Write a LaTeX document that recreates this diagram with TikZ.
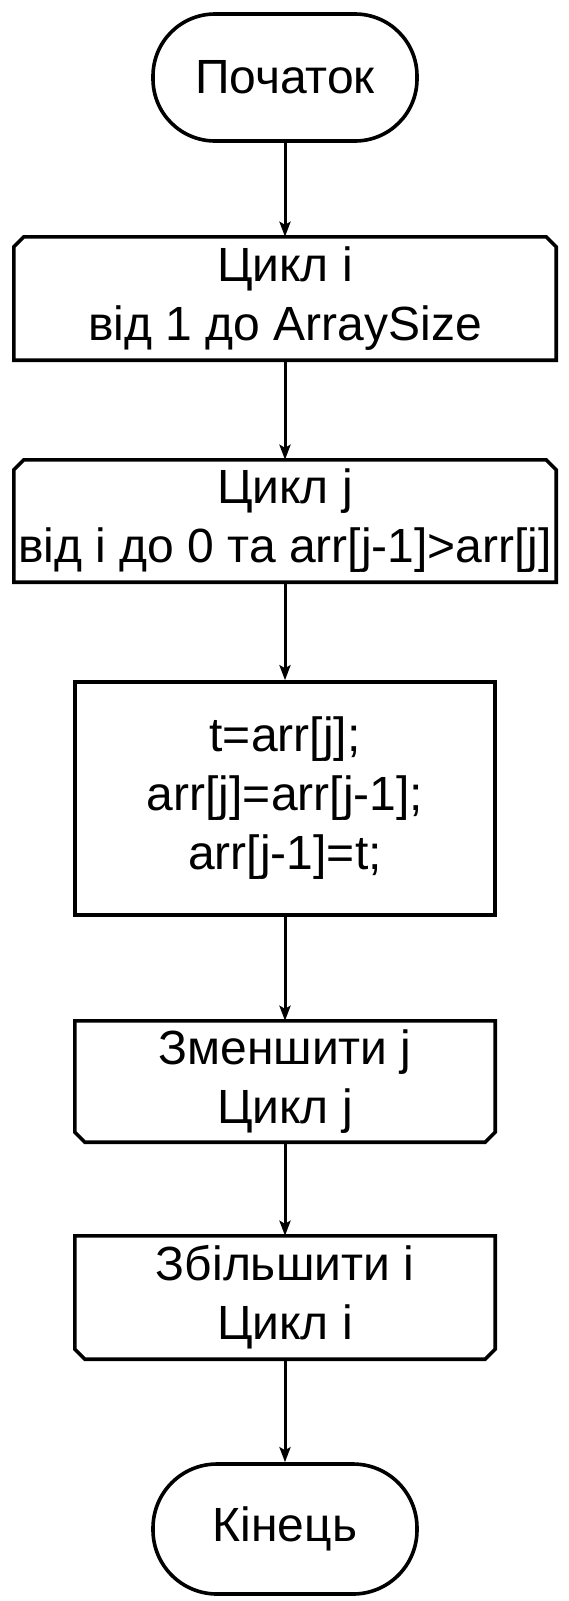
\documentclass[tikz,border=0pt]{standalone}
\usepackage{fontspec}
\setmainfont{Liberation Sans}
\usetikzlibrary{arrows.meta}
\tikzset{
  x=1pt, y=-1pt,
  base/.style={inner sep=0pt, align=center, font=\fontsize{48}{59}\selectfont},
  term/.style={base, draw, line width=3.6pt, rounded corners=62pt},
  proc/.style={base, draw, line width=3.6pt},
  loopbox/.style={base},
  outline/.style={line width=3.6pt, line join=miter},
  arr/.style={line width=3pt, -{Stealth[length=15pt,width=11pt,inset=3pt]}}
}
\newcommand{\loopstart}[1]{%
  \draw[outline] (#1.south west) -- ([yshift=-10pt]#1.north west) -- ([xshift=10pt]#1.north west)
    -- ([xshift=-10pt]#1.north east) -- ([yshift=-10pt]#1.north east) -- (#1.south east) -- cycle;}
\newcommand{\loopfinish}[1]{%
  \draw[outline] (#1.north west) -- ([yshift=10pt]#1.south west) -- ([xshift=10pt]#1.south west)
    -- ([xshift=-10pt]#1.south east) -- ([yshift=10pt]#1.south east) -- (#1.north east) -- cycle;}
\begin{document}
\begin{tikzpicture}
\useasboundingbox[fill=white] (0,0) rectangle (569,1601);
\node[term, minimum width=264pt, minimum height=127pt] (start) at (285,77.5) {Початок};
\node[loopbox, minimum width=542pt, minimum height=123pt] (li) at (285,298.5) {Цикл і\\від 1 до ArraySize};
\loopstart{li}
\node[loopbox, minimum width=542pt, minimum height=122pt] (lj) at (285,521) {Цикл j\\від і до 0 та arr[j-1]>arr[j]};
\loopstart{lj}
\node[proc, minimum width=420pt, minimum height=233pt] (swap) at (285,798.5) {t=arr[j];\\arr[j]=arr[j-1];\\arr[j-1]=t;};
\node[loopbox, minimum width=420pt, minimum height=121pt] (ej) at (285,1081.5) {Зменшити j\\Цикл j};
\loopfinish{ej}
\node[loopbox, minimum width=420pt, minimum height=123pt] (ei) at (285,1297.5) {Збільшити і\\Цикл і};
\loopfinish{ei}
\node[term, minimum width=264pt, minimum height=130pt, rounded corners=64pt] (end) at (285,1529) {Кінець};
\draw[arr] (start.south) -- (li.north);
\draw[arr] (li.south) -- (lj.north);
\draw[arr] (lj.south) -- (swap.north);
\draw[arr] (swap.south) -- (ej.north);
\draw[arr] (ej.south) -- (ei.north);
\draw[arr] (ei.south) -- (end.north);
\end{tikzpicture}
\end{document}
